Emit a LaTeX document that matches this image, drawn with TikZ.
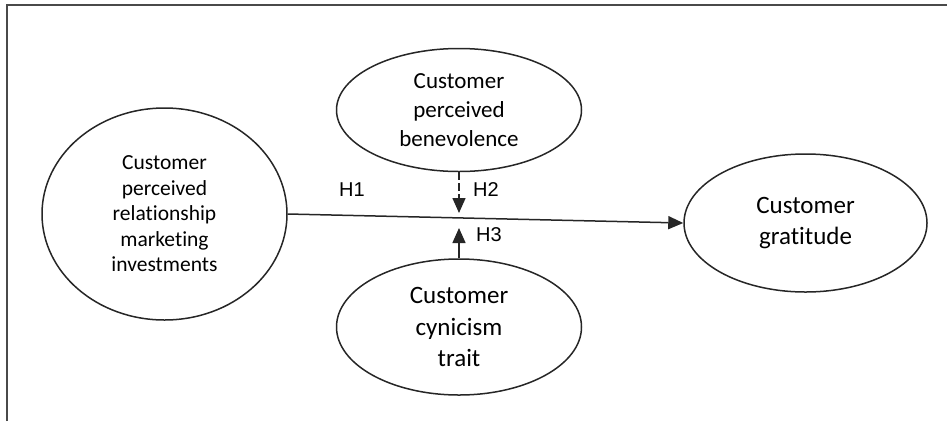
\documentclass[tikz,border=0pt]{standalone}
\usepackage{fontspec}
\setmainfont{Carlito}[Ligatures={NoCommon,NoDiscretionary}]
\newfontfamily\hfont{Liberation Sans}
\usetikzlibrary{arrows.meta,shapes.geometric}
\definecolor{ink}{HTML}{262626}
\definecolor{frame}{HTML}{4A4A4A}
\tikzset{
  construct/.style={ellipse, draw=ink, line width=1.5pt, inner sep=0pt,
    align=center, text=black},
  link/.style={draw=ink, line width=1.5pt, -{Triangle[length=15pt,width=13pt]}},
  hyp/.style={font=\hfont\fontsize{20}{24}\selectfont, text=black, inner sep=0pt},
}
\begin{document}
\begin{tikzpicture}[x=1pt,y=-1pt]
  \useasboundingbox (0,0) rectangle (947,421);
  % open frame: top and left edges only
  \draw[frame, line width=2pt] (7,421) -- (7,5) -- (947,5);

  \node[construct, minimum width=245pt, minimum height=212pt,
        font=\fontsize{21.5}{25.5}\selectfont] (rmi) at (164.5,214)
    {Customer\\perceived\\relationship\\marketing\\investments};
  \node[construct, minimum width=245pt, minimum height=123pt,
        font=\fontsize{23}{29}\selectfont] (ben) at (459,110)
    {Customer\\perceived\\benevolence};
  \node[construct, minimum width=245pt, minimum height=136pt,
        font=\fontsize{25}{31.5}\selectfont] (cyn) at (459,327)
    {Customer\\cynicism\\trait};
  \node[construct, minimum width=243pt, minimum height=138pt,
        font=\fontsize{25}{31}\selectfont] (gra) at (805.5,223)
    {Customer\\gratitude};

  % main effect and its two moderators
  \draw[link] (rmi.east) -- (gra.west);
  \coordinate (h2tip) at (459,213);
  \coordinate (h3tip) at (459,228);
  \draw[link, dash pattern=on 8pt off 3pt] (ben.south) -- (h2tip);
  \draw[link] (cyn.north) -- (h3tip);

  \node[hyp] (h1) at (352,190) {H1};
  \node[hyp] (h2) at (486,190) {H2};
  \node[hyp] (h3) at (489,235) {H3};
\end{tikzpicture}
\end{document}
